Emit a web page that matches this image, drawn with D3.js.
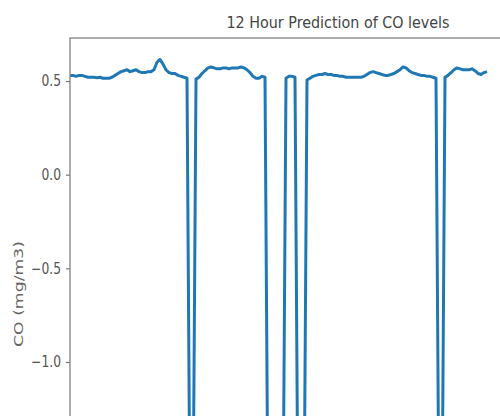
<!DOCTYPE html>
<html>
<head>
<meta charset="utf-8">
<script src="https://cdn.jsdelivr.net/npm/d3@7"></script>
<style>
  html, body { margin: 0; padding: 0; background: #fff; }
  svg { display: block; }
</style>
</head>
<body>
<div id="chart"></div>
<script>
// Predicted CO concentration, one value per time step (mg/m3).
// The deep dips are gaps in the sensor record.
const coValues = [
  0.53, 0.53, 0.525, 0.53, 0.53, 0.525, 0.52, 0.52, 0.52, 0.518,
  0.52, 0.515, 0.515, 0.515, 0.52, 0.53, 0.54, 0.55, 0.555, 0.56,
  0.55, 0.555, 0.56, 0.55, 0.545, 0.545, 0.55, 0.55, 0.56, 0.60,
  0.615, 0.59, 0.56, 0.545, 0.54, 0.54, 0.53, 0.525, 0.52, 0.515,
  -1.86, -1.86, 0.51, 0.52, 0.54, 0.555, 0.57, 0.575, 0.57, 0.565,
  0.565, 0.57, 0.57, 0.565, 0.57, 0.57, 0.57, 0.575, 0.57, 0.56,
  0.545, 0.525, 0.515, 0.515, 0.525, 0.52, -1.86, -1.86, -1.86, -1.86,
  -1.86, -1.86, 0.515, 0.525, 0.525, 0.52, -1.86, -1.86, -1.86, 0.505,
  0.515, 0.525, 0.53, 0.535, 0.535, 0.54, 0.535, 0.535, 0.53, 0.53,
  0.525, 0.525, 0.52, 0.52, 0.52, 0.52, 0.52, 0.52, 0.525, 0.535,
  0.545, 0.55, 0.545, 0.54, 0.535, 0.53, 0.53, 0.535, 0.54, 0.55,
  0.56, 0.575, 0.57, 0.555, 0.545, 0.54, 0.535, 0.53, 0.53, 0.525,
  0.525, 0.52, 0.515, -1.86, -1.86, 0.52, 0.53, 0.545, 0.56, 0.57,
  0.565, 0.56, 0.56, 0.56, 0.565, 0.555, 0.54, 0.535, 0.545, 0.55
];
const yTicks = [-1.0, -0.5, 0.0, 0.5];
const titleText = "12 Hour Prediction of CO levels";
const yLabelText = "CO (mg/m3)";

const W = 500, H = 416;
const plot = { left: 70, top: 38, right: 610, bottom: 548 };

const svg = d3.select("#chart").append("svg")
  .attr("width", W).attr("height", H);

const x = d3.scaleLinear().domain([0, 180]).range([plot.left, plot.right]);
const y = d3.scaleLinear().domain([-1.993, 0.7296]).range([plot.bottom, plot.top]);

svg.append("defs").append("clipPath").attr("id", "plotClip")
  .append("rect")
  .attr("x", plot.left).attr("y", plot.top)
  .attr("width", plot.right - plot.left).attr("height", plot.bottom - plot.top);

// Series line
const line = d3.line().x((d, i) => x(i)).y(d => y(d));
svg.append("path")
  .datum(coValues)
  .attr("clip-path", "url(#plotClip)")
  .attr("fill", "none")
  .attr("stroke", "#1f77b4")
  .attr("stroke-width", 3)
  .attr("stroke-linejoin", "round")
  .attr("d", line);

// Frame
svg.append("rect")
  .attr("x", plot.left).attr("y", plot.top)
  .attr("width", plot.right - plot.left).attr("height", plot.bottom - plot.top)
  .attr("fill", "none").attr("stroke", "#8a8a8a").attr("stroke-width", 1.4);

// Y axis
const fmt = v => (v < 0 ? "\u2212" : "") + Math.abs(v).toFixed(1);
const yAxis = svg.append("g")
  .attr("transform", `translate(${plot.left},0)`)
  .call(d3.axisLeft(y).tickValues(yTicks).tickFormat(fmt).tickSize(4).tickPadding(5));
yAxis.select(".domain").remove();
yAxis.selectAll(".tick line").attr("stroke", "#777").attr("stroke-width", 1.2);
yAxis.selectAll(".tick text")
  .attr("fill", "#555")
  .attr("font-family", "DejaVu Sans, sans-serif")
  .attr("font-size", 15)
  .each(function () {
    const len = this.getComputedTextLength();
    d3.select(this).attr("textLength", len * 0.82).attr("lengthAdjust", "spacingAndGlyphs");
  });

// Title
svg.append("text")
  .attr("x", 338).attr("y", 28)
  .attr("text-anchor", "middle")
  .attr("font-family", "DejaVu Sans, sans-serif")
  .attr("font-size", 16)
  .attr("fill", "#444")
  .attr("textLength", 223).attr("lengthAdjust", "spacingAndGlyphs")
  .text(titleText);

// Y axis label
svg.append("text")
  .attr("transform", "translate(23,294) rotate(-90)")
  .attr("text-anchor", "middle")
  .attr("font-family", "DejaVu Sans, sans-serif")
  .attr("font-size", 12)
  .attr("fill", "#666")
  .attr("textLength", 106).attr("lengthAdjust", "spacingAndGlyphs")
  .text(yLabelText);
</script>
</body>
</html>
